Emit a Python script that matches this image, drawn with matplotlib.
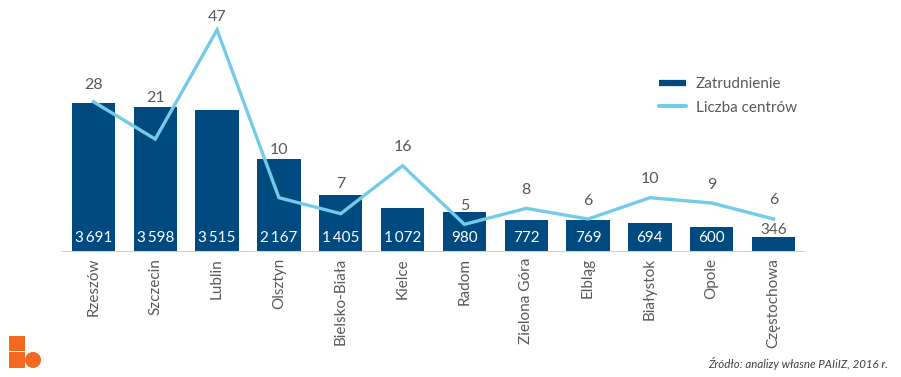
import matplotlib
matplotlib.use("Agg")
import matplotlib.pyplot as plt
from matplotlib.lines import Line2D
from matplotlib.patches import Rectangle, Circle

miasta = ["Rzeszów", "Szczecin", "Lublin", "Olsztyn", "Bielsko-Biała", "Kielce",
          "Radom", "Zielona Góra", "Elbląg", "Białystok", "Opole", "Częstochowa"]
zatrudnienie = [3691, 3598, 3515, 2290, 1405, 1072, 980, 772, 769, 694, 600, 346]
zatrudnienie_labels = ["3\u2009691", "3\u2009598", "3\u2009515", "2\u2009167", "1\u2009405", "1\u2009072",
                       "980", "772", "769", "694", "600", "346"]
centra = [28, 21, 41.5, 10, 7, 16, 5, 8, 6, 10, 9, 6]
centra_labels = ["28", "21", "47", "10", "7", "16", "5", "8", "6", "10", "9", "6"]
# odstep etykiety od linii, w pikselach
centra_offset = [17, 41, 13, 48, 30, 19, 18, 18, 18, 19, 18, 19]

DARK = "#004A80"
LIGHT = "#73CBEA"
GREY = "#595959"
ORANGE = "#F26A21"
W, H = 901, 377

plt.rcParams["font.family"] = ["Lato", "DejaVu Sans"]

fig = plt.figure(figsize=(W / 100, H / 100), dpi=100)
ax = fig.add_axes([62.5 / W, 1 - 251 / H, 742 / W, 251 / H])
x = list(range(len(miasta)))

# Slupki
ax.bar(x, zatrudnienie, width=0.7, color=DARK)
ax.set_xlim(-0.5, 11.5)
ax.set_ylim(0, 251 / 0.0401)
ax.set_yticks([])
ax.set_xticks(x)
ax.set_xticklabels(miasta, rotation=90, fontsize=11, color=GREY)
ax.tick_params(axis="x", length=0, pad=5)
for s in ["top", "right", "left"]:
    ax.spines[s].set_visible(False)
ax.spines["bottom"].set_color("#D0D0D0")
ax.spines["bottom"].set_linewidth(0.8)

for i, lab in enumerate(zatrudnienie_labels):
    if i == 11:
        ax.annotate(lab, (i, zatrudnienie[i]), xytext=(0, 0), textcoords="offset points",
                    ha="center", va="bottom", fontsize=11, color=GREY)
    else:
        ax.annotate(lab, (i, 0), xytext=(0, 4), textcoords="offset points",
                    ha="center", va="bottom", fontsize=11, color="white")

# Linia na drugiej osi
ax2 = ax.twinx()
ax2.plot(x, centra, color=LIGHT, linewidth=2.4, solid_joinstyle="miter")
ax2.set_ylim(0, 251 / 5.33)
ax2.set_yticks([])
for s in ax2.spines.values():
    s.set_visible(False)
for i, lab in enumerate(centra_labels):
    ax2.annotate(lab, (i, centra[i]), xytext=(0, centra_offset[i]), textcoords="offset pixels",
                 ha="center", va="center", fontsize=11.5, color=GREY)

# Legenda
handles = [Line2D([], [], color=DARK, linewidth=4.5, solid_capstyle="butt"),
           Line2D([], [], color=LIGHT, linewidth=3, solid_capstyle="round")]
fig.legend(handles, ["Zatrudnienie", "Liczba centrów"], loc="center left",
           bbox_to_anchor=(659 / W, 1 - 96 / H), frameon=False, fontsize=11,
           labelcolor=GREY, handlelength=1.75, handletextpad=0.65, labelspacing=0.6,
           borderpad=0, borderaxespad=0)

# Logo i zrodlo
def px_rect(x0, y0, w, h):
    return Rectangle((x0 / W, 1 - (y0 + h) / H), w / W, h / H, transform=fig.transFigure,
                     color=ORANGE, linewidth=0)

fig.add_artist(px_rect(9, 336, 16, 15))
fig.add_artist(px_rect(9, 352, 16, 16))
fig.add_artist(Circle((33, H - 360), 8, transform=None, color=ORANGE, linewidth=0))

fig.text(888 / W, 1 - 363 / H, "Źródło: analizy własne PAIiIZ, 2016 r.", ha="right", va="center",
         fontsize=8.3, style="italic", color="#404040")

fig.savefig("out.png", dpi=100)
